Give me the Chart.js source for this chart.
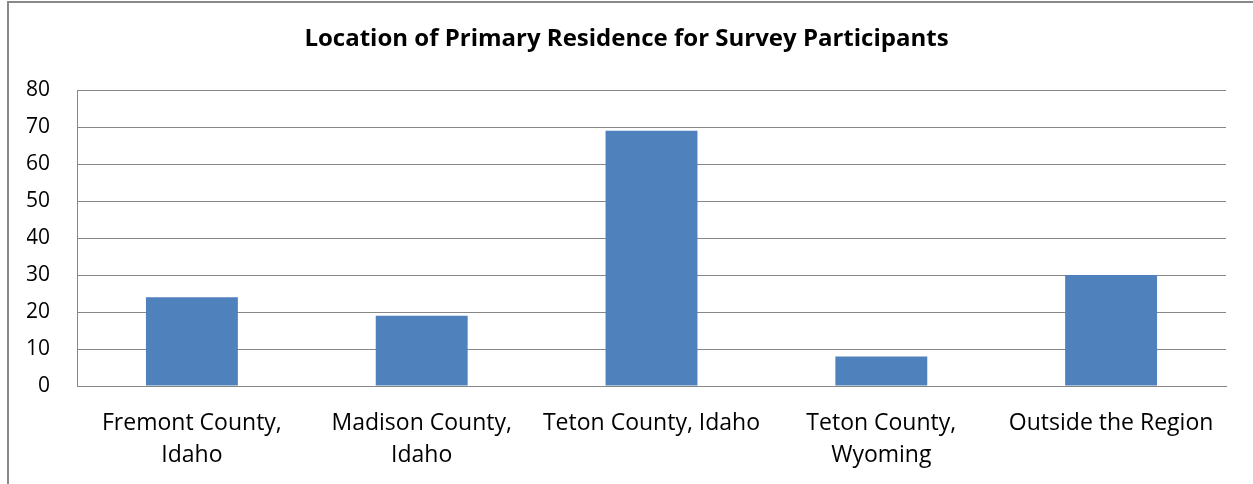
<!DOCTYPE html>
<html>
<head>
<meta charset="utf-8">
<script src="https://cdn.jsdelivr.net/npm/chart.js@4.4.0/dist/chart.umd.min.js"></script>
<style>
    html, body {
        margin: 0;
        padding: 0;
        background: #ffffff;
    }
    #wrap {
        position: relative;
        width: 1253px;
        height: 484px;
        overflow: hidden;
    }
    /* chart frame: only the left and top edges fall inside the page */
    #frame {
        position: absolute;
        left: 7px;
        top: 1px;
        width: 1300px;
        height: 600px;
        border-left: 2px solid #898989;
        border-top: 2px solid #898989;
        pointer-events: none;
    }
    canvas {
        position: absolute;
        left: 0;
        top: 0;
    }
</style>
</head>
<body>
<div id="wrap">
    <canvas id="residenceChart" width="1253" height="484"></canvas>
    <div id="frame"></div>
</div>
<script>
// Survey answers by county
const locations = [
    ['Fremont County,', 'Idaho'],
    ['Madison County,', 'Idaho'],
    'Teton County, Idaho',
    ['Teton County,', 'Wyoming'],
    'Outside the Region'
];
const participants = [24, 19, 69, 8, 30];
const yTicks = [0, 10, 20, 30, 40, 50, 60, 70, 80];

const fontFamily = '"Open Sans", sans-serif';
const gridColor = '#878787';

const residenceCtx = document.getElementById('residenceChart').getContext('2d');
const residenceChart = new Chart(residenceCtx, {
    type: 'bar',
    data: {
        labels: locations,
        datasets: [{
            label: 'Participants',
            data: participants,
            backgroundColor: '#4f81bd',
            borderWidth: 0,
            barPercentage: 0.4,
            categoryPercentage: 1.0
        }]
    },
    options: {
        responsive: false,
        animation: false,
        layout: {
            // equal side padding keeps the title centred on the page
            padding: { left: 27, right: 27, top: 0, bottom: 0 }
        },
        plugins: {
            legend: { display: false },
            tooltip: { enabled: false },
            title: {
                display: true,
                text: 'Location of Primary Residence for Survey Participants',
                color: '#000000',
                font: { family: fontFamily, size: 24, weight: 'bold', lineHeight: 1.2 },
                padding: { top: 25, bottom: 36.2 }
            }
        },
        scales: {
            x: {
                grid: { display: false, drawTicks: false },
                border: { display: true, color: gridColor, width: 1 },
                ticks: {
                    color: '#000000',
                    font: { family: fontFamily, size: 23, lineHeight: 1.39 },
                    padding: 21,
                    maxRotation: 0,
                    autoSkip: false
                },
                afterFit: function(scale) {
                    scale.height = 98;
                }
            },
            y: {
                min: 0,
                max: 80,
                afterBuildTicks: function(scale) {
                    scale.ticks = yTicks.map(v => ({ value: v }));
                },
                grid: { color: gridColor, lineWidth: 1, drawTicks: false },
                border: { display: true, color: gridColor, width: 1 },
                ticks: {
                    color: '#000000',
                    font: { family: fontFamily, size: 21 },
                    padding: 27
                },
                afterFit: function(scale) {
                    scale.width = 50;
                }
            }
        }
    }
});
</script>
</body>
</html>
